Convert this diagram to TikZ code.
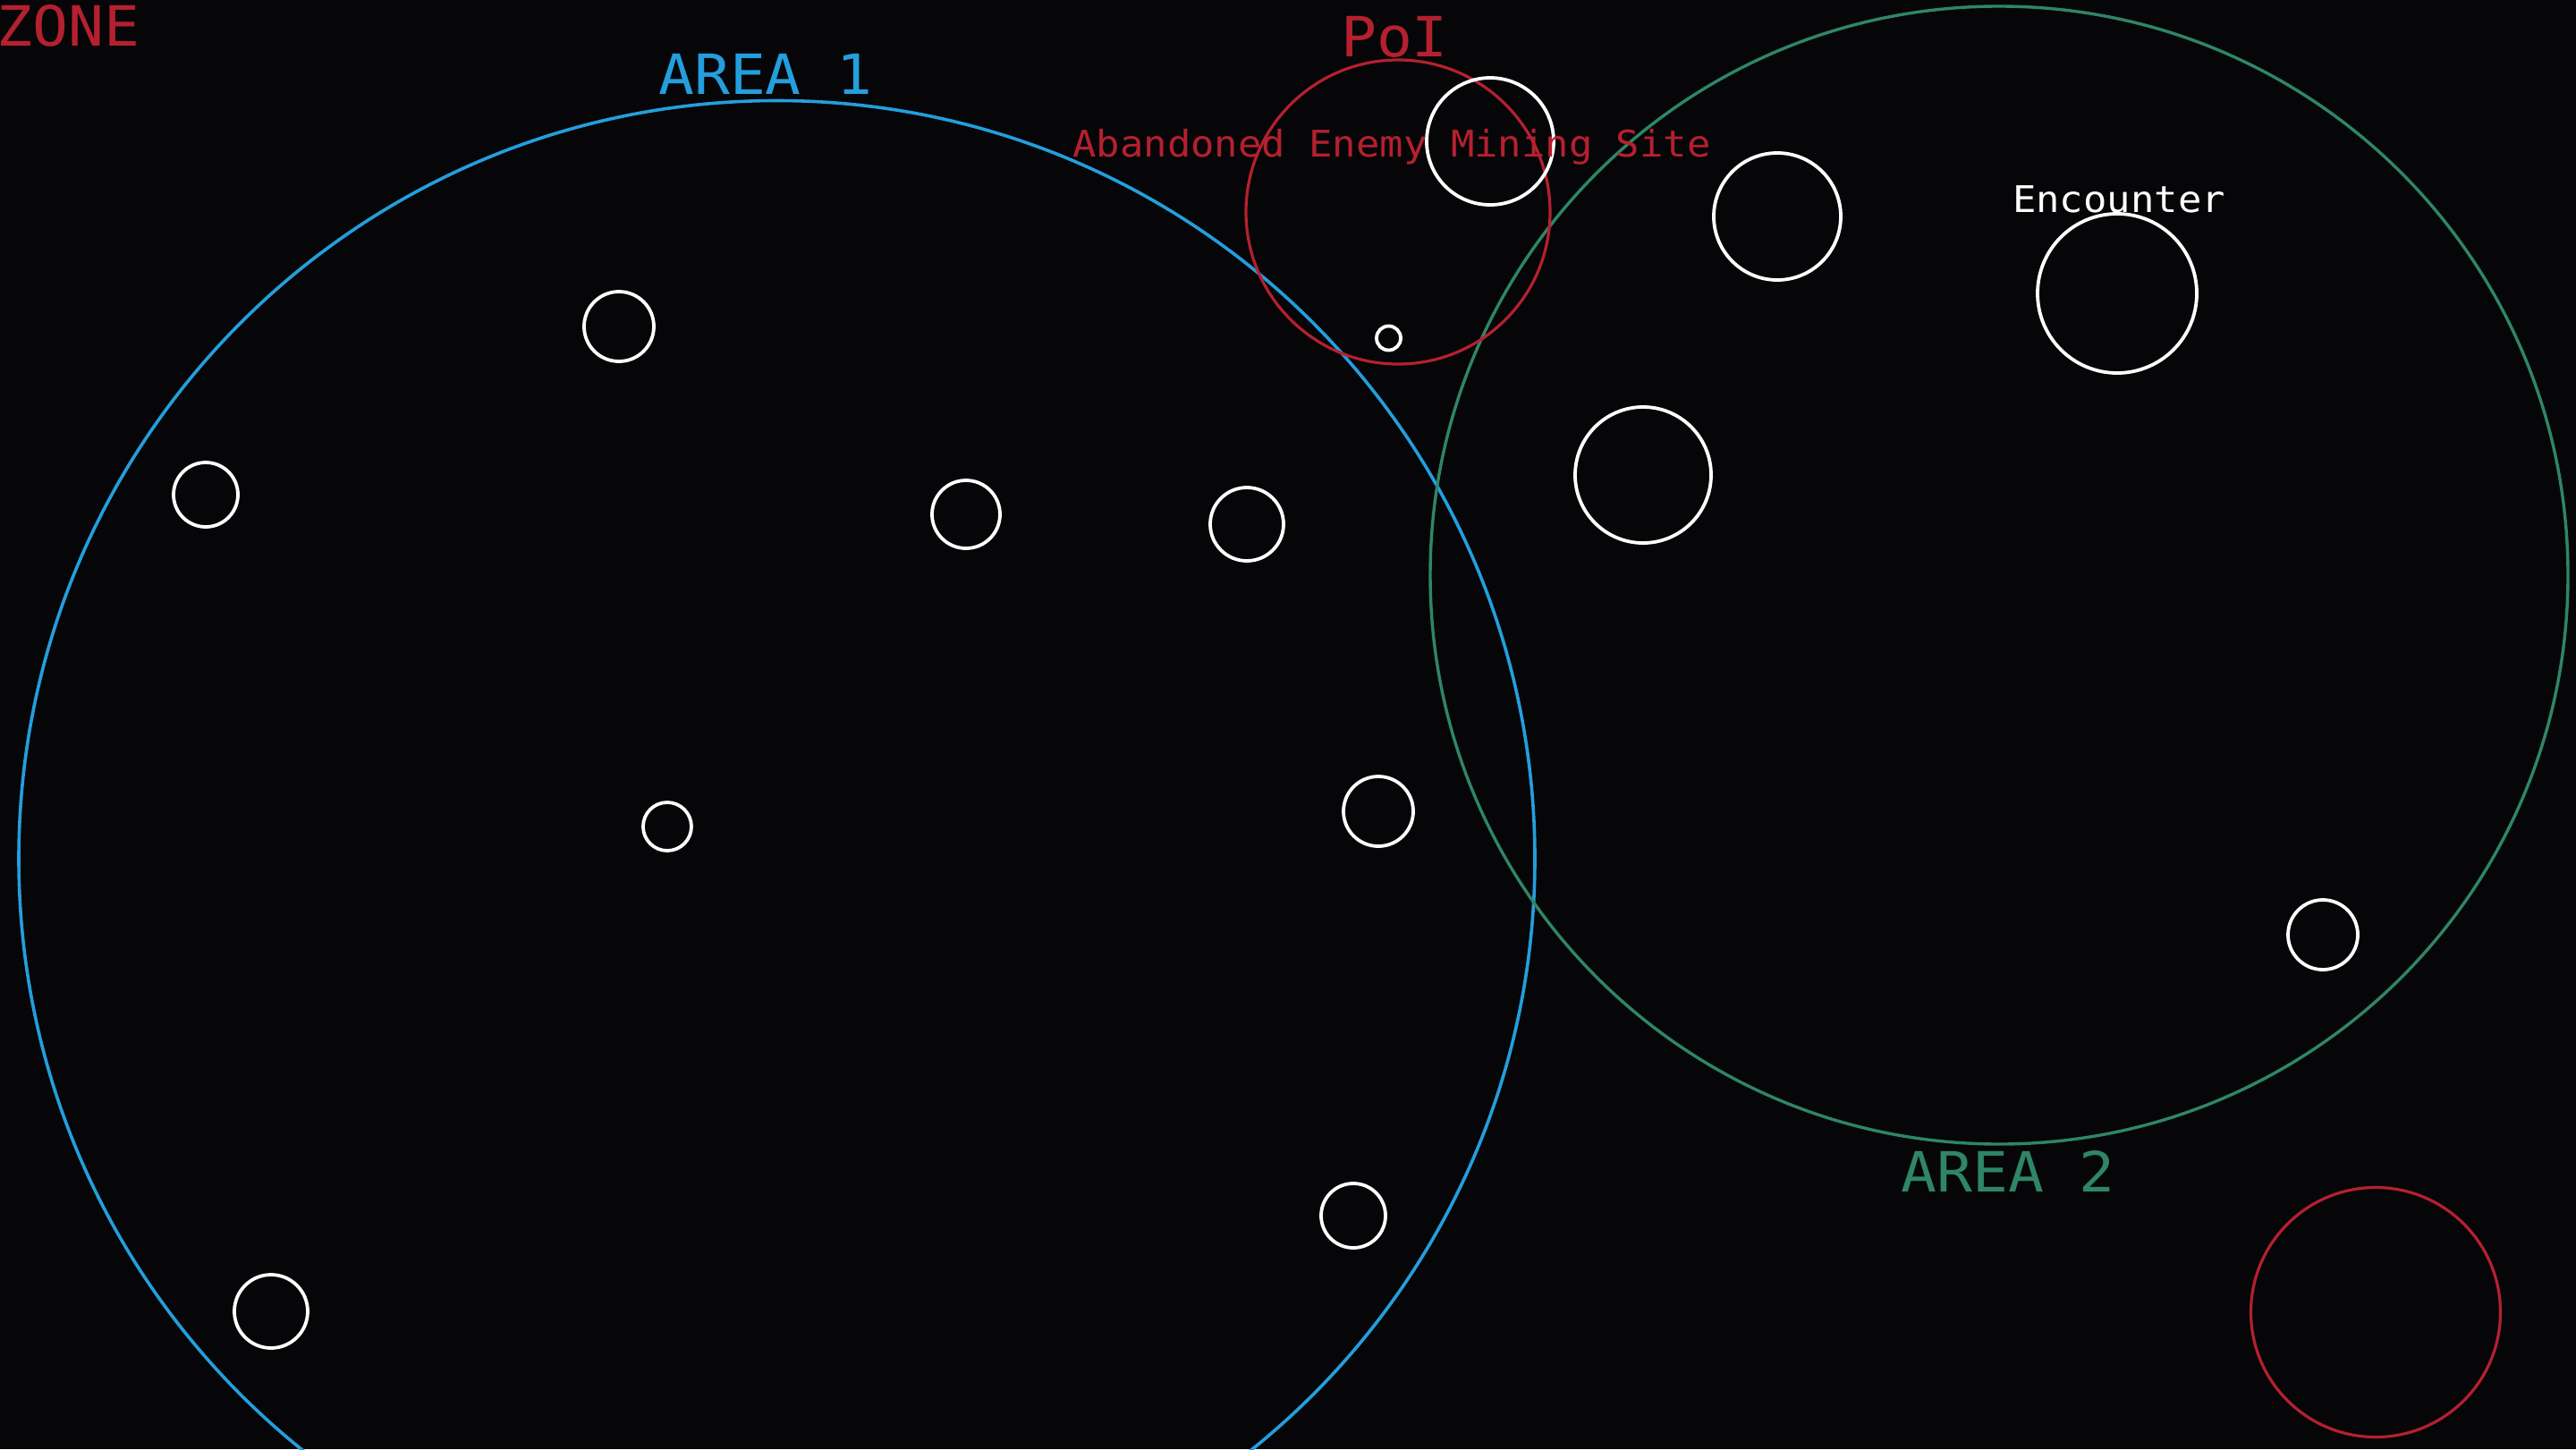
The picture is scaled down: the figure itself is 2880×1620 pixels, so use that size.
\documentclass[tikz,border=0pt]{standalone}
\usepackage{fontspec}
\setmonofont{DejaVu Sans Mono}
\definecolor{bgc}{RGB}{6,6,9}
\definecolor{zred}{RGB}{181,32,46}
\definecolor{zblue}{RGB}{36,158,220}
\definecolor{zgreen}{RGB}{46,134,102}
\newcommand\wtxt[1]{\scalebox{1.07}[1]{#1}}
\tikzset{
  ring/.style={draw=white, line width=3.8pt},
  area1/.style={draw=zblue, line width=3.6pt},
  area2/.style={draw=zgreen, line width=3.4pt},
  poi/.style={draw=zred, line width=3.2pt},
  bigtxt/.style={inner sep=0pt, font=\ttfamily\fontsize{62}{62}\selectfont},
  smalltxt/.style={inner sep=0pt, font=\ttfamily\fontsize{41}{41}\selectfont},
}
\begin{document}
\begin{tikzpicture}[x=1pt,y=-1pt]
\fill[bgc] (0,0) rectangle (2880,1620);
\useasboundingbox (0,0) rectangle (2880,1620);
\begin{scope}
\clip (0,0) rectangle (2880,1620);
% areas
\draw[area1] (868.5,960) circle[radius=847.5pt];
\draw[area2] (2235,643) circle[radius=636pt];
% points of interest
\draw[poi] (1563,237) circle[radius=170pt];
\draw[poi] (2656,1467) circle[radius=139.5pt];
% white rings
\draw[ring] (1666,158) circle[radius=71pt];
\draw[ring] (1552.5,378) circle[radius=13.5pt];
\draw[ring] (1987,242) circle[radius=71pt];
\draw[ring] (2367,328) circle[radius=89pt];
\draw[ring] (1837,531) circle[radius=76pt];
\draw[ring] (2597,1045) circle[radius=39pt];
\draw[ring] (692,365) circle[radius=39pt];
\draw[ring] (230,553) circle[radius=36pt];
\draw[ring] (1080,575) circle[radius=38pt];
\draw[ring] (1394,586) circle[radius=41pt];
\draw[ring] (746,924) circle[radius=27pt];
\draw[ring] (1541,907) circle[radius=39pt];
\draw[ring] (1513,1359) circle[radius=36pt];
\draw[ring] (303,1466) circle[radius=41pt];
\end{scope}
% labels
\node[bigtxt, text=zred, anchor=base west] (zone) at (-4,51) {\wtxt{ZONE}};
\node[bigtxt, text=zblue, anchor=base] (a1) at (856,105) {\wtxt{AREA 1}};
\node[bigtxt, text=zgreen, anchor=base] (a2) at (2245,1332) {\wtxt{AREA 2}};
\node[bigtxt, text=zred, anchor=base] (poilbl) at (1559,63) {\wtxt{PoI}};
\node[smalltxt, text=zred, anchor=base] (site) at (1556,175) {\wtxt{Abandoned Enemy Mining Site}};
\node[smalltxt, text=white, anchor=base] (enc) at (2369,237) {\wtxt{Encounter}};
\end{tikzpicture}
\end{document}
